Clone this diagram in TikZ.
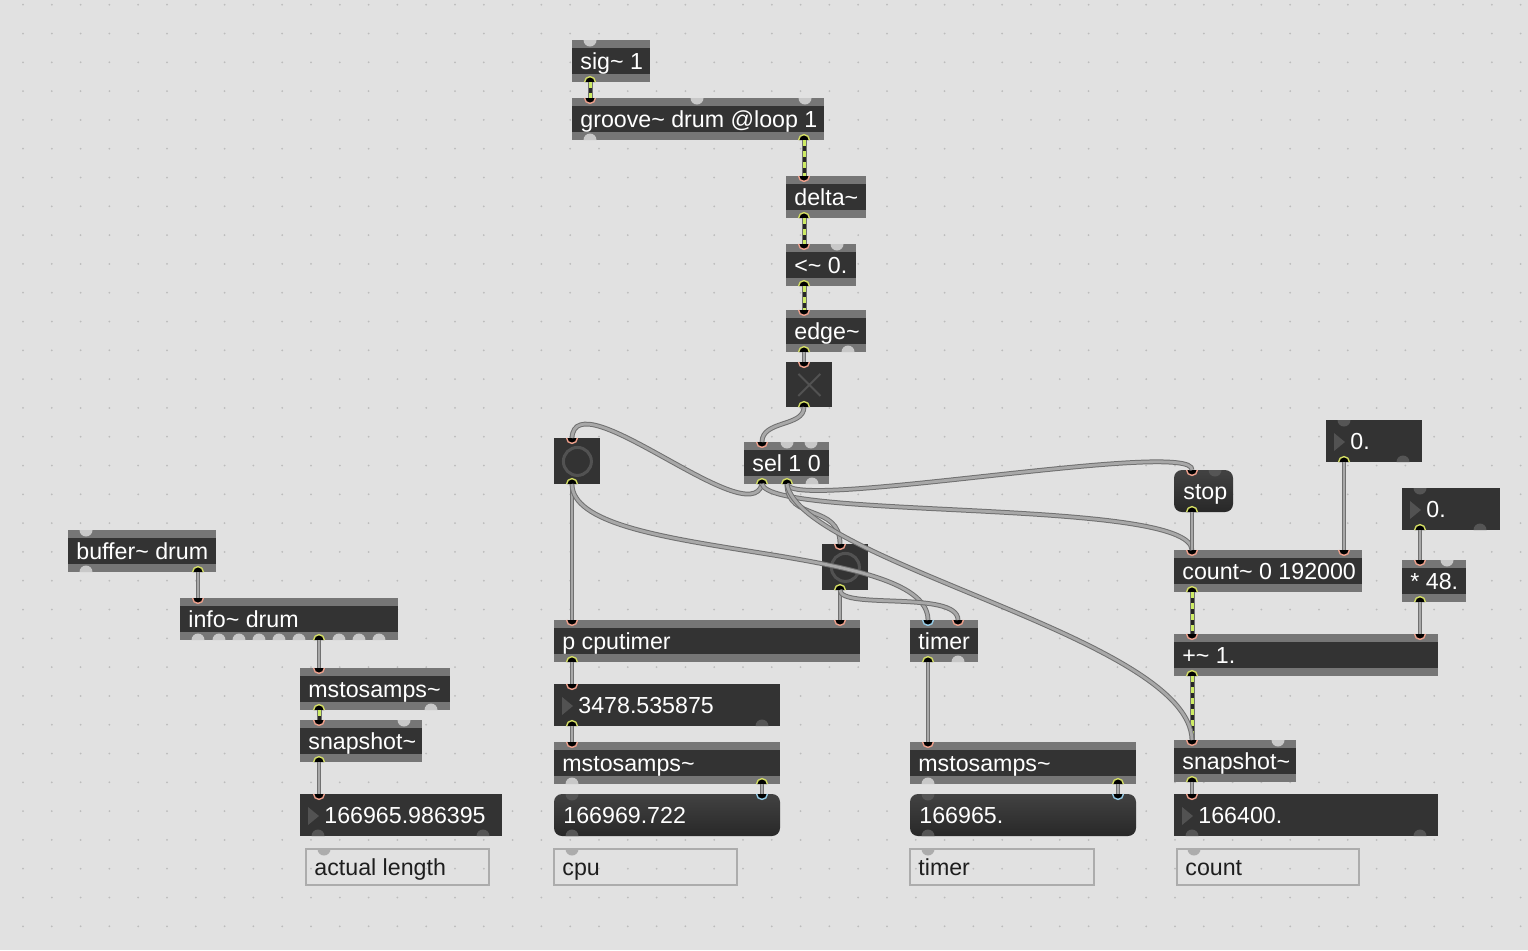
\documentclass[tikz,border=0pt]{standalone}
\usepackage{fontspec}
\setmainfont{Liberation Sans}

\definecolor{fond}{RGB}{225,225,225}
\definecolor{point}{RGB}{188,188,188}
\definecolor{sombre}{RGB}{51,51,51}
\definecolor{bande}{RGB}{118,118,118}
\definecolor{libre}{RGB}{200,200,200}
\definecolor{librefonce}{RGB}{85,85,85}
\definecolor{rose}{RGB}{238,160,140}
\definecolor{jaune}{RGB}{212,222,100}
\definecolor{bleu}{RGB}{150,205,232}
\definecolor{cablebord}{RGB}{112,112,112}
\definecolor{cablecoeur}{RGB}{168,168,168}
\definecolor{sigjaune}{RGB}{205,235,100}
\definecolor{msghaut}{RGB}{66,66,66}
\definecolor{msgbas}{RGB}{40,40,40}
\definecolor{bordcom}{RGB}{172,172,172}
\definecolor{noircom}{RGB}{30,30,30}
\definecolor{icone}{RGB}{82,82,82}

\newcommand\tild{\textasciitilde}

% boites (x,y en pixels)
\newcommand\objet[5]{% nom, x, y, largeur, texte
  \fill[bande] (#2,#3) rectangle ++(#4,42);
  \fill[sombre] (#2,#3+8) rectangle ++(#4,26);
  \node[texte] (#1) at (#2+8,#3+29.5) {#5};}
\newcommand\nombre[5]{%
  \fill[sombre] (#2,#3) rectangle ++(#4,42);
  \fill[icone] (#2+8,#3+13) -- (#2+8,#3+31) -- (#2+19,#3+22) -- cycle;
  \node[texte] (#1) at (#2+24,#3+29.5) {#5};}
\newcommand\boitemsg[5]{%
  \shade[top color=msghaut, bottom color=msgbas, rounded corners=4pt] (#2,#3) rectangle ++(#4,42);
  \node[texte] (#1) at (#2+9,#3+29.5) {#5};}
\newcommand\commentaire[5]{%
  \draw[bordcom, line width=1pt] (#2,#3) rectangle ++(#4,36);
  \node[texte, text=noircom] (#1) at (#2+8,#3+26) {#5};}

% entrees et sorties
\newcommand\entree[4][rose]{%
  \fill[black] (#3-5.4,#4) arc[start angle=180, end angle=360, radius=2.7pt] -- cycle;
  \draw[#1, line width=0.7pt] (#3-5.4,#4) arc[start angle=180, end angle=360, radius=2.7pt];
  \coordinate (#2) at (#3,#4);}
\newcommand\sortie[3]{%
  \fill[black] (#2-5.4,#3) arc[start angle=180, end angle=0, radius=2.7pt] -- cycle;
  \draw[jaune, line width=0.7pt] (#2-5.4,#3) arc[start angle=180, end angle=0, radius=2.7pt];
  \coordinate (#1) at (#2,#3);}
\newcommand\libreh[3][libre]{\fill[#1] (#2-6.5,#3) arc[start angle=180, end angle=360, radius=3.25pt] -- cycle;}
\newcommand\libreb[3][libre]{\fill[#1] (#2-6.5,#3) arc[start angle=180, end angle=0, radius=3.25pt] -- cycle;}

\begin{document}
\begin{tikzpicture}[x=0.5pt, y=-0.5pt,
  texte/.style={anchor=base west, inner sep=0pt, text=white, font=\fontsize{11.6}{13}\selectfont},
  bouton/.style={anchor=north west, fill=sombre, minimum size=23pt, inner sep=0pt,
    path picture={\draw[icone, line width=1.5pt] (path picture bounding box.center) circle[radius=7pt];}},
  bascule/.style={anchor=north west, fill=sombre, minimum width=23pt, minimum height=22.5pt, inner sep=0pt,
    path picture={\draw[icone, line width=1pt] ([shift={(-5.5pt,5.5pt)}]path picture bounding box.center) -- ++(11pt,-11pt)
      ([shift={(-5.5pt,-5.5pt)}]path picture bounding box.center) -- ++(11pt,11pt);}},
  cable/.style={draw=cablebord, double=cablecoeur, double distance=1.4pt, line width=0.5pt},
  signal/.style={draw=cablebord, line width=2.5pt, postaction={draw=black!85, line width=1.5pt},
    postaction={draw=sigjaune, line width=1.5pt, dash pattern=on 3pt off 2.5pt}}]

\fill[fond] (0,0) rectangle (1528,950); % Pour la bounding box
\foreach \i in {0,...,52} {\foreach \j in {0,...,32} {\fill[point] (23+28.8*\i,4.7+28.8*\j) circle[radius=0.5pt];}}

% colonne du haut
\objet{sig}{572}{40}{78}{sig\tild\ 1}
\objet{grv}{572}{98}{252}{groove\tild\ drum @loop 1}
\objet{dlt}{786}{176}{80}{delta\tild}
\objet{inf}{786}{244}{70}{<\tild\ 0.}
\objet{edg}{786}{310}{80}{edge\tild}
\node[bascule] (tgl) at (786,362) {};
\objet{sel}{744}{442}{85}{sel 1 0}
\node[bouton] (bg) at (554,438) {};
\node[bouton] (bm) at (822,544) {};

% cpu et timer
\objet{cpu}{554}{620}{306}{p cputimer}
\nombre{ncpu}{554}{684}{226}{3478.535875}
\objet{mscpu}{554}{742}{226}{mstosamps\tild}
\boitemsg{rcpu}{554}{794}{226}{166969.722}
\commentaire{ccpu}{554}{849}{183}{cpu}
\objet{tmr}{910}{620}{68}{timer}
\objet{mstmr}{910}{742}{226}{mstosamps\tild}
\boitemsg{rtmr}{910}{794}{226}{166965.}
\commentaire{ctmr}{910}{849}{184}{timer}

% count
\boitemsg{stop}{1174}{470}{59}{stop}
\nombre{n1}{1326}{420}{96}{0.}
\nombre{n2}{1402}{488}{98}{0.}
\objet{cnt}{1174}{550}{188}{count\tild\ 0 192000}
\objet{mul}{1402}{560}{64}{* 48.}
\objet{add}{1174}{634}{264}{+\tild\ 1.}
\objet{snp}{1174}{740}{122}{snapshot\tild}
\nombre{nsnp}{1174}{794}{264}{166400.}
\commentaire{ccnt}{1177}{849}{182}{count}

% buffer
\objet{buf}{68}{530}{148}{buffer\tild\ drum}
\objet{info}{180}{598}{218}{info\tild\ drum}
\objet{msl}{300}{668}{150}{mstosamps\tild}
\objet{snl}{300}{720}{122}{snapshot\tild}
\nombre{nl}{300}{794}{202}{166965.986395}
\commentaire{cl}{306}{849}{183}{actual length}

% ports libres
\foreach \x/\y in {590/40,697/98,805/98,837/244,787/442,811/442,1278/740,404/720,1447/560,86/530}
  {\libreh{\x}{\y}}
\foreach \x/\y in {590/140,848/352,812/484,958/662,572/784,928/784,431/710,86/572}
  {\libreb{\x}{\y}}
\foreach \x in {198,219,239,259,279,299,339,359,379} {\libreb{\x}{640}}
\foreach \x/\y in {572/794,928/794,1344/420,1420/488,1215/470} {\libreh[librefonce]{\x}{\y}}
\foreach \x/\y in {762/726,572/836,928/836,1403/462,1480/530,1192/836,1420/836,318/836,483/836}
  {\libreb[librefonce]{\x}{\y}}
\foreach \x in {572,928,1194,324} {\libreh[bordcom]{\x}{849}}

% ports relies
\sortie{sig-o}{590}{82}   \entree{grv-i}{590}{98}  \sortie{grv-o}{804}{140}
\entree{dlt-i}{804}{176}  \sortie{dlt-o}{804}{218}
\entree{inf-i}{804}{244}  \sortie{inf-o}{804}{286}
\entree{edg-i}{804}{310}  \sortie{edg-o}{804}{352}
\entree{tgl-i}{804}{362}  \sortie{tgl-o}{804}{407}
\entree{sel-i}{762}{442}  \sortie{sel-o1}{762}{484} \sortie{sel-o2}{787}{484}
\entree{bg-i}{572}{438}   \sortie{bg-o}{572}{484}
\entree{bm-i}{840}{544}   \sortie{bm-o}{840}{590}
\entree{cpu-i1}{572}{620} \entree{cpu-i2}{840}{620} \sortie{cpu-o}{572}{662}
\entree{ncpu-i}{572}{684} \sortie{ncpu-o}{572}{726}
\entree{mscpu-i}{572}{742} \sortie{mscpu-o}{762}{784}
\entree[bleu]{rcpu-i}{762}{794}
\entree[bleu]{tmr-i1}{928}{620} \entree{tmr-i2}{958}{620} \sortie{tmr-o}{928}{662}
\entree{mstmr-i}{928}{742} \sortie{mstmr-o}{1118}{784}
\entree[bleu]{rtmr-i}{1118}{794}
\entree{stop-i}{1192}{470} \sortie{stop-o}{1192}{512}
\sortie{n1-o}{1344}{462}  \sortie{n2-o}{1420}{530}
\entree{cnt-i1}{1192}{550} \entree{cnt-i2}{1344}{550} \sortie{cnt-o}{1192}{592}
\entree{mul-i}{1420}{560} \sortie{mul-o}{1420}{602}
\entree{add-i1}{1192}{634} \entree{add-i2}{1420}{634} \sortie{add-o}{1192}{676}
\entree{snp-i}{1192}{740} \sortie{snp-o}{1192}{782}
\entree{nsnp-i}{1192}{794}
\sortie{buf-o}{198}{572}  \entree{info-i}{198}{598} \sortie{info-o}{319}{640}
\entree{msl-i}{319}{668}  \sortie{msl-o}{319}{710}
\entree{snl-i}{319}{720}  \sortie{snl-o}{319}{762}
\entree{nl-i}{319}{794}

% cables signal
\draw[signal] (sig-o) -- (grv-i);
\draw[signal] (grv-o) -- (dlt-i);
\draw[signal] (dlt-o) -- (inf-i);
\draw[signal] (inf-o) -- (edg-i);
\draw[signal] (cnt-o) -- (add-i1);
\draw[signal] (add-o) -- (snp-i);
\draw[signal] (msl-o) -- (snl-i);

% cables
\draw[cable] (edg-o) -- (tgl-i);
\draw[cable] (tgl-o) .. controls +(0,20) and +(0,-22) .. (sel-i);
\draw[cable] (sel-o1) .. controls +(-12,50) and +(3,-60) .. (bg-i);
\draw[cable] (sel-o1) .. controls +(8,36) and +(-2,-52) .. (cnt-i1);
\draw[cable] (sel-o2) .. controls +(3,28) and +(3,-32) .. (stop-i);
\draw[cable] (sel-o2) .. controls +(0,38) and +(0,-41) .. (bm-i);
\draw[cable] (sel-o2) .. controls +(13,78) and +(-2,-102) .. (snp-i);
\draw[cable] (bg-o) -- (cpu-i1);
\draw[cable] (bg-o) .. controls +(0,78) and +(0,-80) .. (tmr-i1);
\draw[cable] (bm-o) -- (cpu-i2);
\draw[cable] (bm-o) .. controls +(0,20) and +(0,-30) .. (tmr-i2);
\draw[cable] (cpu-o) -- (ncpu-i);
\draw[cable] (ncpu-o) -- (mscpu-i);
\draw[cable] (mscpu-o) -- (rcpu-i);
\draw[cable] (tmr-o) -- (mstmr-i);
\draw[cable] (mstmr-o) -- (rtmr-i);
\draw[cable] (stop-o) -- (cnt-i1);
\draw[cable] (n1-o) -- (cnt-i2);
\draw[cable] (n2-o) -- (mul-i);
\draw[cable] (mul-o) -- (add-i2);
\draw[cable] (snp-o) -- (nsnp-i);
\draw[cable] (buf-o) -- (info-i);
\draw[cable] (info-o) -- (msl-i);
\draw[cable] (snl-o) -- (nl-i);
\end{tikzpicture}
\end{document}
